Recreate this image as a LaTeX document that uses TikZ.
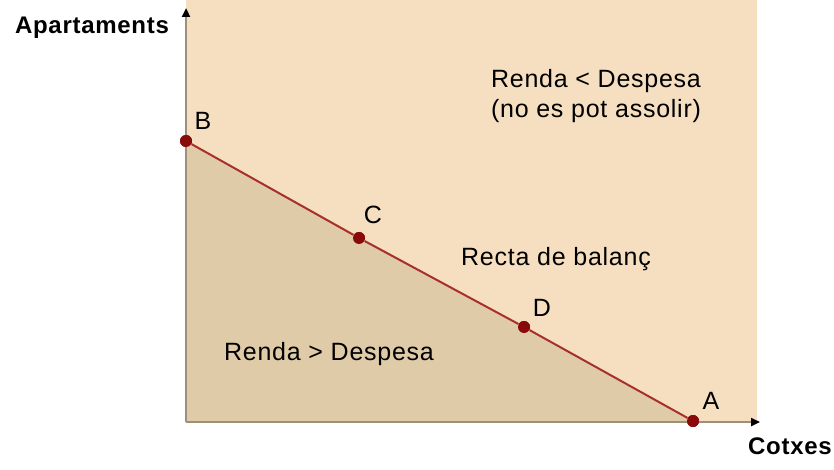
\documentclass[tikz,border=0pt]{standalone}
\usepackage{fontspec}
\setmainfont{Liberation Sans}[LetterSpace=3]
\usetikzlibrary{arrows.meta}
\definecolor{light}{HTML}{F5DFC0}
\definecolor{dark}{HTML}{DFCBA8}
\definecolor{line}{HTML}{A8302A}
\definecolor{pt}{HTML}{8A0A0A}
\definecolor{axis}{HTML}{9E8E7C}
\begin{document}
\begin{tikzpicture}[x=1pt,y=-1pt,thick, dot/.style = {circle, fill=pt, inner sep=0pt, minimum size=12pt}, lbl/.style = {font=\fontsize{25}{28}\selectfont}, ttl/.style = {font=\fontsize{24}{28}\selectfont\bfseries}]
        \useasboundingbox (0,0) rectangle (834,470);
        \fill[light] (186,0) rectangle (757,422);
        \node[dot] (B) at (186,141) {};
        \node[dot] (C) at (359,238) {};
        \node[dot] (D) at (524,327) {};
        \node[dot] (A) at (693,421) {};
        \coordinate (O) at (186,422);
        \coordinate (Y) at (186,8);
        \coordinate (X) at (760,422);
        \fill[dark] (B.center) -- (O) -- (A.center) -- cycle;
        \draw[axis, line width=2.5pt, -{Triangle[black,length=9pt,width=8pt]}] (O) -- (Y);
        \draw[axis, line width=2.5pt, -{Triangle[black,length=9pt,width=8pt]}] (O) -- (X);
        \draw[line, line width=2pt] (B) -- (C) -- (D) -- (A);
        \node[dot] at (B) {};
        \node[dot] at (C) {};
        \node[dot] at (D) {};
        \node[dot] at (A) {};
        \node[lbl] (lB) at (203,121) {B};
        \node[lbl] (lC) at (373,215) {C};
        \node[lbl] (lD) at (542,308) {D};
        \node[lbl] (lA) at (711,401) {A};
        \node[ttl] (ya) at (92,28) {Apartaments};
        \node[ttl] (xa) at (790,446) {Cotxes};
        \node[lbl] (r1) at (596,81) {Renda < Despesa};
        \node[lbl] (r2) at (596,111) {(no es pot assolir)};
        \node[lbl] (rb) at (556,259) {Recta de balanç};
        \node[lbl] (r3) at (329,354) {Renda > Despesa};
    \end{tikzpicture}
\end{document}
